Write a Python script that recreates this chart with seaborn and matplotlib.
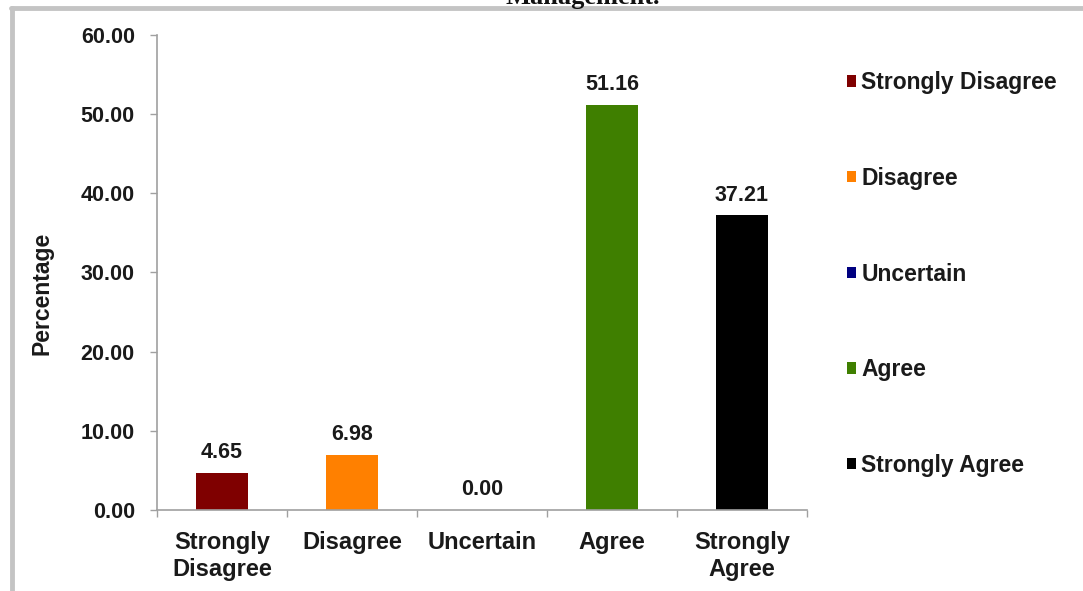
import matplotlib
matplotlib.use("Agg")
import matplotlib.pyplot as plt
from matplotlib.patches import Patch
from matplotlib.lines import Line2D
import seaborn as sns
import pandas as pd

categories = ["Strongly Disagree", "Disagree", "Uncertain", "Agree", "Strongly Agree"]
tick_labels = ["Strongly\nDisagree", "Disagree", "Uncertain", "Agree", "Strongly\nAgree"]
percentages = [4.65, 6.98, 0.00, 51.16, 37.21]
colors = ["#7f0000", "#ff8000", "#000080", "#3f7f00", "#000000"]
y_ticks = [0, 10, 20, 30, 40, 50, 60]

sns.set_theme(style="white")
plt.rcParams["font.family"] = ["Liberation Sans", "DejaVu Sans"]
plt.rcParams["font.weight"] = "bold"

TXT = "#1a1a1a"
GRID = "#a0a0a0"

df = pd.DataFrame({"Response": categories, "Percentage": percentages})

fig = plt.figure(figsize=(10.83, 5.91), dpi=100)
ax = fig.add_axes([0.145, 0.137, 0.600, 0.804])

sns.barplot(data=df, x="Response", y="Percentage", hue="Response",
            palette=colors, width=0.4, legend=False, ax=ax,
            saturation=1, edgecolor="none")

for cont in ax.containers:
    ax.bar_label(cont, fmt="%.2f", padding=7, fontsize=15.5, fontweight="bold",
                 color=TXT)

ax.set_xlim(-0.5, len(categories) - 0.5)
ax.set_ylim(0, 60)
ax.set_yticks(y_ticks)
ax.set_yticklabels([f"{v:.2f}" for v in y_ticks], fontsize=15.5, fontweight="bold",
                   color=TXT)
ax.set_xticks(range(len(categories)))
ax.set_xticklabels(tick_labels, fontsize=17, fontweight="bold", color=TXT,
                   linespacing=1.25)
ax.set_xticks([i - 0.5 for i in range(len(categories) + 1)], minor=True)
ax.tick_params(axis="x", which="major", length=0, pad=15)
ax.tick_params(axis="x", which="minor", length=5, width=1, color=GRID,
               direction="out", bottom=True)
ax.tick_params(axis="y", length=5, width=1, color=GRID, direction="out",
               left=True, pad=11)

ax.set_xlabel("")
ax.set_ylabel("Percentage", fontsize=16.5, fontweight="bold", color=TXT)
ax.yaxis.set_label_coords(-0.159, 0.457)

for side in ("top", "right"):
    ax.spines[side].set_visible(False)
for side in ("left", "bottom"):
    ax.spines[side].set_color(GRID)
    ax.spines[side].set_linewidth(1.2)

handles = [Patch(facecolor=c, edgecolor="none") for c in colors]
leg = fig.legend(handles, categories, loc="upper left",
                 bbox_to_anchor=(0.7735, 0.895), frameon=False,
                 prop={"size": 16.5, "weight": "bold"},
                 handlelength=0.38, handleheight=0.38, handletextpad=0.25,
                 labelspacing=3.17, borderaxespad=0)
for t in leg.get_texts():
    t.set_color(TXT)

# outer frame
fig.add_artist(Line2D([11 / 1083, 1.0], [1 - 8 / 591, 1 - 8 / 591],
                      transform=fig.transFigure, color="#c4c4c4", linewidth=3.5))
fig.add_artist(Line2D([12 / 1083, 12 / 1083], [0.0, 1 - 8 / 591],
                      transform=fig.transFigure, color="#c4c4c4", linewidth=3.5))

# title running off the top edge
fig.text(660 / 1083, 1 - 4 / 591, "Management.", ha="right", va="baseline",
         fontsize=19, fontweight="bold", family=["Liberation Serif", "DejaVu Serif"],
         color="#111111")

fig.savefig("out.png", dpi=100, facecolor="white")
